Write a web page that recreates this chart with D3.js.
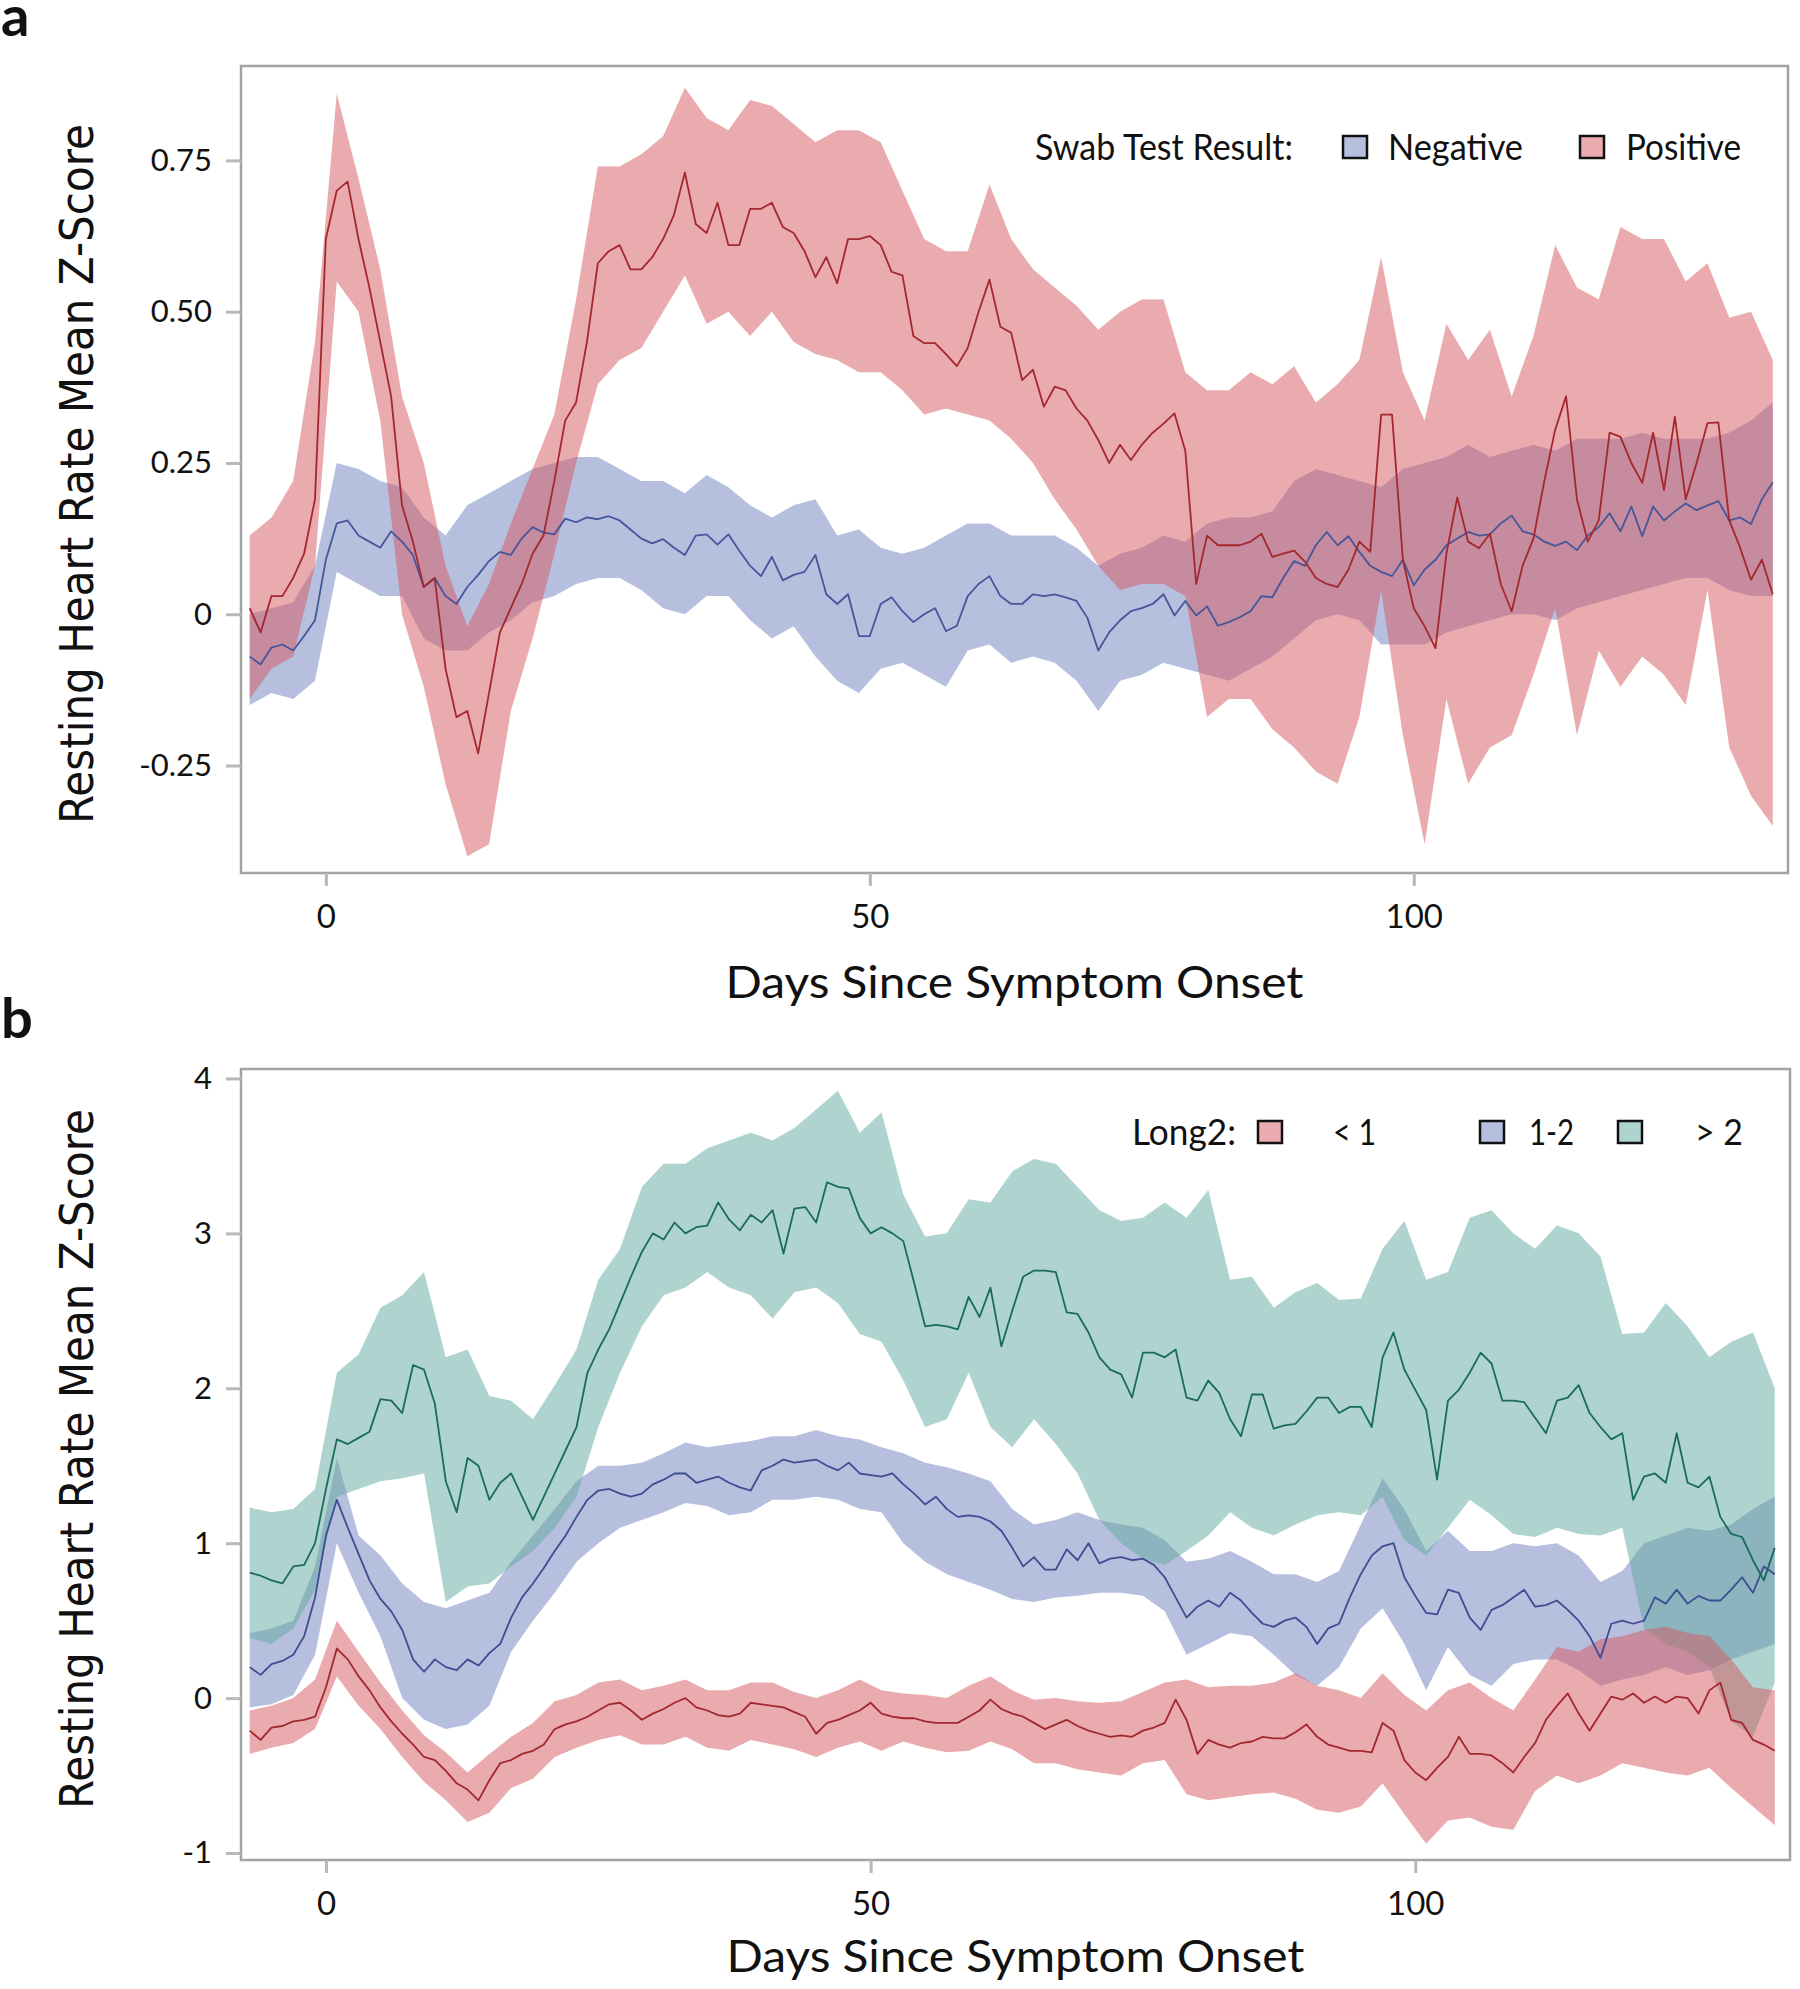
<!DOCTYPE html>
<html>
<head>
<meta charset="utf-8">
<script src="https://cdn.jsdelivr.net/npm/d3@7/dist/d3.min.js"></script>
<style>
  html, body { margin: 0; padding: 0; background: #fff; }
  svg { display: block; }
  .lbl { font-family: Lato, "Open Sans", "Liberation Sans", sans-serif; fill: #111; }
</style>
</head>
<body>
<svg id="chart" width="1800" height="1989"></svg>
<script>
// days since symptom onset: means are daily, bands every second day
var meanDays = d3.range(-7, 134);
var bandDays = d3.range(-7, 134, 2);

var ticksX = [0, 50, 100];
var ticksA = [-0.25, 0, 0.25, 0.5, 0.75];
var ticksB = [-1, 0, 1, 2, 3, 4];

// ---- panel a : swab test result ----
var negMean = [
  -0.07, -0.083, -0.055, -0.05, -0.06, -0.036, -0.01, 0.09, 0.15, 0.155,
  0.13, 0.12, 0.11, 0.137, 0.12, 0.098, 0.045, 0.06, 0.03, 0.017,
  0.045, 0.065, 0.088, 0.103, 0.098, 0.125, 0.144, 0.135, 0.132, 0.158,
  0.152, 0.16, 0.157, 0.162, 0.155, 0.14, 0.125, 0.117, 0.124, 0.11,
  0.098, 0.13, 0.132, 0.115, 0.132, 0.105, 0.08, 0.063, 0.095, 0.056,
  0.065, 0.07, 0.098, 0.033, 0.017, 0.033, -0.036, -0.036, 0.017, 0.028,
  0.005, -0.013, 0.0, 0.01, -0.028, -0.019, 0.03, 0.05, 0.063, 0.03,
  0.017, 0.017, 0.033, 0.03, 0.033, 0.028, 0.022, -0.006, -0.06, -0.03,
  -0.01, 0.005, 0.01, 0.017, 0.033, -0.002, 0.022, -0.002, 0.013, -0.019,
  -0.013, -0.005, 0.005, 0.03, 0.028, 0.06, 0.088, 0.08, 0.114, 0.136,
  0.114, 0.129, 0.103, 0.08, 0.07, 0.063, 0.09, 0.048, 0.074, 0.09,
  0.114, 0.125, 0.136, 0.13, 0.132, 0.15, 0.163, 0.137, 0.132, 0.12,
  0.113, 0.12, 0.106, 0.13, 0.144, 0.167, 0.137, 0.178, 0.129, 0.178,
  0.155, 0.17, 0.183, 0.172, 0.18, 0.187, 0.155, 0.16, 0.149, 0.19,
  0.218
];
var negUpper = [
  0.00, 0.01, 0.02, 0.08, 0.25, 0.24, 0.22, 0.21, 0.16, 0.13,
  0.18, 0.20, 0.22, 0.24, 0.25, 0.26, 0.26, 0.24, 0.22, 0.22,
  0.20, 0.23, 0.21, 0.18, 0.16, 0.18, 0.19, 0.13, 0.14, 0.11,
  0.10, 0.11, 0.13, 0.15, 0.15, 0.13, 0.13, 0.13, 0.11, 0.08,
  0.10, 0.11, 0.13, 0.12, 0.15, 0.16, 0.16, 0.17, 0.22, 0.24,
  0.23, 0.22, 0.21, 0.24, 0.25, 0.26, 0.28, 0.26, 0.27, 0.28,
  0.27, 0.29, 0.29, 0.29, 0.30, 0.29, 0.29, 0.29, 0.30, 0.32,
  0.35
];
var negLower = [
  -0.15, -0.13, -0.14, -0.11, 0.07, 0.05, 0.03, 0.03, -0.04, -0.06,
  -0.06, -0.03, -0.01, 0.02, 0.03, 0.05, 0.06, 0.06, 0.04, 0.01,
  0.00, 0.03, 0.03, -0.01, -0.04, -0.02, -0.07, -0.11, -0.13, -0.09,
  -0.08, -0.10, -0.12, -0.06, -0.05, -0.08, -0.07, -0.08, -0.11, -0.16,
  -0.11, -0.10, -0.08, -0.09, -0.10, -0.11, -0.09, -0.07, -0.04, -0.01,
  0.00, -0.01, -0.05, -0.05, -0.05, -0.03, -0.02, -0.01, 0.00, 0.00,
  -0.01, 0.01, 0.02, 0.03, 0.04, 0.05, 0.06, 0.06, 0.04, 0.03,
  0.03
];
var posMean = [
  0.01, -0.03, 0.03, 0.03, 0.06, 0.10, 0.19, 0.62, 0.70, 0.715,
  0.62, 0.54, 0.45, 0.36, 0.18, 0.12, 0.045, 0.06, -0.09, -0.17,
  -0.16, -0.23, -0.13, -0.03, 0.01, 0.05, 0.10, 0.13, 0.22, 0.32,
  0.35, 0.45, 0.58, 0.60, 0.61, 0.57, 0.57, 0.59, 0.62, 0.66,
  0.73, 0.645, 0.63, 0.68, 0.61, 0.61, 0.67, 0.67, 0.68, 0.64,
  0.63, 0.60, 0.557, 0.59, 0.547, 0.62, 0.62, 0.625, 0.61, 0.566,
  0.56, 0.46, 0.448, 0.448, 0.43, 0.41, 0.44, 0.50, 0.553, 0.475,
  0.465, 0.387, 0.404, 0.343, 0.376, 0.37, 0.34, 0.32, 0.288, 0.25,
  0.28, 0.255, 0.28, 0.30, 0.315, 0.332, 0.27, 0.05, 0.13, 0.114,
  0.114, 0.114, 0.12, 0.133, 0.095, 0.10, 0.105, 0.087, 0.06, 0.05,
  0.045, 0.074, 0.12, 0.103, 0.33, 0.33, 0.09, 0.01, -0.02, -0.056,
  0.10, 0.193, 0.12, 0.109, 0.133, 0.05, 0.005, 0.08, 0.125, 0.22,
  0.305, 0.36, 0.19, 0.12, 0.155, 0.30, 0.293, 0.25, 0.217, 0.30,
  0.205, 0.326, 0.19, 0.25, 0.316, 0.317, 0.155, 0.11, 0.057, 0.09,
  0.033
];
var posUpper = [
  0.13, 0.16, 0.22, 0.45, 0.86, 0.72, 0.57, 0.36, 0.25, 0.08,
  -0.02, 0.05, 0.15, 0.24, 0.33, 0.52, 0.74, 0.74, 0.76, 0.79,
  0.87, 0.82, 0.80, 0.85, 0.84, 0.81, 0.78, 0.80, 0.80, 0.78,
  0.70, 0.62, 0.60, 0.60, 0.71, 0.62, 0.57, 0.54, 0.51, 0.47,
  0.50, 0.52, 0.52, 0.40, 0.37, 0.37, 0.40, 0.38, 0.41, 0.35,
  0.38, 0.42, 0.59, 0.40, 0.32, 0.48, 0.42, 0.47, 0.36, 0.46,
  0.61, 0.54, 0.52, 0.64, 0.62, 0.62, 0.55, 0.58, 0.49, 0.50,
  0.42
];
var posLower = [
  -0.14, -0.09, -0.07, 0.08, 0.55, 0.50, 0.32, 0.00, -0.12, -0.28,
  -0.40, -0.38, -0.16, -0.04, 0.10, 0.25, 0.38, 0.42, 0.44, 0.50,
  0.56, 0.48, 0.50, 0.46, 0.50, 0.45, 0.43, 0.42, 0.40, 0.40,
  0.37, 0.33, 0.34, 0.33, 0.32, 0.29, 0.25, 0.19, 0.14, 0.08,
  0.04, 0.05, 0.05, 0.03, -0.17, -0.14, -0.14, -0.19, -0.22, -0.26,
  -0.28, -0.17, 0.04, -0.20, -0.38, -0.14, -0.28, -0.22, -0.20, -0.10,
  0.01, -0.20, -0.06, -0.12, -0.07, -0.10, -0.15, 0.04, -0.22, -0.30,
  -0.35
];

// ---- panel b : Long2 groups ----
var lowMean = [
  -0.21, -0.27, -0.19, -0.18, -0.15, -0.14, -0.12, 0.07, 0.32, 0.25,
  0.14, 0.05, -0.06, -0.15, -0.23, -0.3, -0.38, -0.4, -0.47, -0.55,
  -0.59, -0.66, -0.53, -0.42, -0.4, -0.36, -0.34, -0.3, -0.2, -0.17,
  -0.15, -0.12, -0.08, -0.04, -0.03, -0.08, -0.14, -0.1, -0.07, -0.03,
  0.0, -0.06, -0.08, -0.11, -0.12, -0.1, -0.03, -0.04, -0.05, -0.06,
  -0.09, -0.12, -0.23, -0.16, -0.14, -0.11, -0.08, -0.03, -0.1, -0.12,
  -0.13, -0.13, -0.15, -0.16, -0.16, -0.16, -0.12, -0.08, -0.01, -0.07,
  -0.1, -0.12, -0.16, -0.2, -0.17, -0.14, -0.18, -0.21, -0.23, -0.25,
  -0.24, -0.25, -0.21, -0.19, -0.16, -0.01, -0.14, -0.36, -0.27, -0.3,
  -0.32, -0.29, -0.28, -0.25, -0.26, -0.26, -0.22, -0.17, -0.25, -0.3,
  -0.32, -0.34, -0.34, -0.35, -0.16, -0.21, -0.4, -0.48, -0.53, -0.45,
  -0.38, -0.25, -0.36, -0.36, -0.37, -0.42, -0.48, -0.38, -0.29, -0.14,
  -0.05, 0.03, -0.1, -0.21, -0.1, 0.01, -0.01, 0.03, -0.03, 0.01,
  -0.03, 0.01, 0.0, -0.1, 0.05, 0.1, -0.14, -0.16, -0.27, -0.3,
  -0.34
];
var lowUpper = [
  -0.08, -0.05, 0.00, 0.12, 0.50, 0.30, 0.10, -0.08, -0.24, -0.35,
  -0.48, -0.36, -0.25, -0.16, -0.02, 0.02, 0.10, 0.12, 0.05, 0.08,
  0.12, 0.05, 0.05, 0.10, 0.10, 0.04, 0.00, 0.05, 0.12, 0.05,
  0.03, 0.02, 0.00, 0.08, 0.14, 0.05, -0.01, 0.00, -0.02, -0.03,
  -0.02, 0.04, 0.10, 0.12, 0.07, 0.08, 0.08, 0.10, 0.16, 0.08,
  0.05, 0.00, 0.16, 0.02, -0.08, 0.05, 0.10, 0.00, -0.08, 0.12,
  0.33, 0.30, 0.38, 0.40, 0.44, 0.46, 0.42, 0.40, 0.25, 0.07,
  0.05
];
var lowLower = [
  -0.36, -0.32, -0.29, -0.20, 0.14, -0.05, -0.20, -0.38, -0.54, -0.66,
  -0.80, -0.74, -0.58, -0.52, -0.38, -0.32, -0.27, -0.24, -0.30, -0.30,
  -0.25, -0.32, -0.34, -0.27, -0.30, -0.33, -0.38, -0.32, -0.28, -0.34,
  -0.28, -0.32, -0.35, -0.34, -0.28, -0.33, -0.42, -0.42, -0.46, -0.48,
  -0.50, -0.42, -0.40, -0.62, -0.66, -0.64, -0.62, -0.61, -0.65, -0.72,
  -0.74, -0.70, -0.55, -0.75, -0.94, -0.79, -0.77, -0.83, -0.85, -0.60,
  -0.50, -0.55, -0.50, -0.42, -0.45, -0.48, -0.50, -0.45, -0.58, -0.70,
  -0.82
];
var midMean = [
  0.2, 0.15, 0.22, 0.24, 0.28, 0.4, 0.65, 1.05, 1.28, 1.1,
  0.93, 0.76, 0.64, 0.56, 0.44, 0.25, 0.17, 0.25, 0.2, 0.18,
  0.25, 0.21, 0.29, 0.35, 0.52, 0.65, 0.74, 0.84, 0.95, 1.05,
  1.17, 1.28, 1.34, 1.35, 1.32, 1.3, 1.32, 1.38, 1.41, 1.45,
  1.45, 1.39, 1.41, 1.43, 1.39, 1.36, 1.34, 1.47, 1.5, 1.54,
  1.52, 1.53, 1.54, 1.5, 1.47, 1.52, 1.45, 1.44, 1.43, 1.45,
  1.38, 1.32, 1.25, 1.3, 1.22, 1.17, 1.18, 1.17, 1.14, 1.08,
  0.97, 0.85, 0.91, 0.83, 0.83, 0.96, 0.89, 1.0, 0.87, 0.9,
  0.91, 0.89, 0.9, 0.86, 0.78, 0.65, 0.52, 0.59, 0.63, 0.59,
  0.68, 0.63, 0.55, 0.48, 0.46, 0.5, 0.52, 0.46, 0.35, 0.45,
  0.48, 0.65, 0.8, 0.92, 0.98, 1.0, 0.78, 0.66, 0.55, 0.54,
  0.7, 0.68, 0.52, 0.44, 0.57, 0.6, 0.65, 0.7, 0.59, 0.6,
  0.63, 0.57, 0.5, 0.4, 0.26, 0.48, 0.5, 0.48, 0.5, 0.65,
  0.61, 0.7, 0.61, 0.66, 0.63, 0.63, 0.7, 0.78, 0.68, 0.85,
  0.8
];
var midUpper = [
  0.42, 0.45, 0.50, 0.85, 1.55, 1.05, 0.92, 0.74, 0.62, 0.58,
  0.63, 0.68, 0.88, 1.05, 1.22, 1.40, 1.50, 1.50, 1.52, 1.58,
  1.65, 1.62, 1.64, 1.66, 1.69, 1.69, 1.73, 1.69, 1.67, 1.62,
  1.58, 1.52, 1.49, 1.45, 1.40, 1.22, 1.12, 1.15, 1.20, 1.15,
  1.12, 1.10, 1.02, 0.88, 0.90, 0.95, 0.88, 0.80, 0.80, 0.75,
  0.82, 1.12, 1.42, 1.22, 0.95, 1.08, 0.95, 0.95, 1.00, 0.98,
  1.00, 0.92, 0.75, 0.82, 1.00, 1.05, 1.10, 1.08, 1.12, 1.22,
  1.30
];
var midLower = [
  -0.06, -0.04, 0.02, 0.28, 1.00, 0.68, 0.40, 0.00, -0.14, -0.20,
  -0.17, -0.05, 0.30, 0.50, 0.68, 0.88, 1.00, 1.10, 1.15, 1.20,
  1.26, 1.24, 1.18, 1.20, 1.28, 1.28, 1.30, 1.28, 1.22, 1.20,
  1.00, 0.88, 0.80, 0.75, 0.70, 0.64, 0.62, 0.65, 0.66, 0.68,
  0.68, 0.66, 0.56, 0.28, 0.35, 0.42, 0.40, 0.28, 0.15, 0.08,
  0.20, 0.45, 0.58, 0.35, 0.05, 0.33, 0.15, 0.08, 0.22, 0.25,
  0.25, 0.18, 0.08, 0.12, 0.15, 0.20, 0.15, 0.18, 0.25, 0.30,
  0.35
];
var highMean = [
  0.81, 0.79, 0.76, 0.74, 0.85, 0.86, 1.0, 1.35, 1.67, 1.64,
  1.68, 1.72, 1.93, 1.92, 1.84, 2.15, 2.12, 1.90, 1.40, 1.20,
  1.55, 1.50, 1.28, 1.39, 1.45, 1.30, 1.15, 1.30, 1.45, 1.60,
  1.75, 2.1, 2.25, 2.38, 2.55, 2.72, 2.88, 3.0, 2.96, 3.07,
  3.0, 3.04, 3.05, 3.2, 3.09, 3.02, 3.12, 3.07, 3.15, 2.87,
  3.16, 3.17, 3.07, 3.33, 3.3, 3.29, 3.1, 3.0, 3.04, 3.0,
  2.95, 2.68, 2.4, 2.41, 2.4, 2.38, 2.59, 2.46, 2.65, 2.27,
  2.5, 2.72, 2.76, 2.76, 2.75, 2.49, 2.48, 2.36, 2.2, 2.12,
  2.09, 1.94, 2.23, 2.23, 2.2, 2.25, 1.94, 1.92, 2.05, 1.97,
  1.8, 1.69, 1.96, 1.96, 1.74, 1.76, 1.77, 1.85, 1.94, 1.94,
  1.84, 1.88, 1.88, 1.75, 2.2, 2.36, 2.12, 1.99, 1.86, 1.41,
  1.92, 1.99, 2.1, 2.23, 2.16, 1.92, 1.92, 1.91, 1.81, 1.71,
  1.92, 1.94, 2.02, 1.84, 1.75, 1.67, 1.71, 1.28, 1.43, 1.45,
  1.39, 1.71, 1.39, 1.36, 1.43, 1.17, 1.06, 1.04, 0.89, 0.76,
  0.97
];
var highUpper = [
  1.23, 1.20, 1.22, 1.35, 2.10, 2.22, 2.52, 2.60, 2.75, 2.20,
  2.25, 1.95, 1.92, 1.80, 2.02, 2.25, 2.70, 2.90, 3.30, 3.45,
  3.45, 3.55, 3.60, 3.65, 3.60, 3.68, 3.80, 3.92, 3.65, 3.78,
  3.25, 2.98, 3.00, 3.22, 3.20, 3.40, 3.48, 3.45, 3.30, 3.15,
  3.08, 3.10, 3.20, 3.10, 3.28, 2.70, 2.72, 2.52, 2.62, 2.68,
  2.57, 2.58, 2.90, 3.08, 2.70, 2.75, 3.10, 3.15, 3.00, 2.90,
  3.05, 3.00, 2.85, 2.35, 2.36, 2.55, 2.40, 2.20, 2.30, 2.36,
  2.00
];
var highLower = [
  0.39, 0.35, 0.45, 0.70, 1.30, 1.35, 1.40, 1.42, 1.45, 0.62,
  0.72, 0.74, 0.85, 0.95, 1.10, 1.30, 1.75, 2.10, 2.40, 2.60,
  2.65, 2.75, 2.65, 2.60, 2.45, 2.62, 2.65, 2.55, 2.35, 2.30,
  2.05, 1.75, 1.80, 2.10, 1.75, 1.62, 1.80, 1.64, 1.45, 1.15,
  1.00, 0.90, 0.86, 0.95, 1.05, 1.20, 1.10, 1.05, 1.12, 1.18,
  1.20, 1.18, 1.30, 1.02, 0.92, 1.10, 1.28, 1.18, 1.06, 1.04,
  1.10, 1.06, 1.05, 1.10, 0.45, 0.35, 0.30, 0.20, -0.15, -0.25,
  0.10
];

var redFill = '#d6575f', blueFill = '#6f80bd', tealFill = '#5fa99f';

var svg = d3.select('#chart');
var xDomain = [-7.8, 134.4];

function drawPanel(cfg) {
  var x = d3.scaleLinear().domain(xDomain).range([cfg.left, cfg.right]);
  var y = d3.scaleLinear().domain(cfg.yDomain).range([cfg.bottom, cfg.top]);

  svg.append('clipPath').attr('id', 'clip-' + cfg.id)
    .append('rect')
      .attr('x', cfg.left).attr('y', cfg.top)
      .attr('width', cfg.right - cfg.left).attr('height', cfg.bottom - cfg.top);

  var plot = svg.append('g').attr('clip-path', 'url(#clip-' + cfg.id + ')');

  // confidence bands first, mean lines on top
  cfg.series.forEach(function(s) {
    var band = d3.area()
      .x(function(d, i) { return x(bandDays[i]); })
      .y0(function(d, i) { return y(s.lower[i]); })
      .y1(function(d) { return y(d); });
    plot.append('path').datum(s.upper)
      .attr('d', band)
      .attr('fill', s.fill)
      .attr('fill-opacity', 0.5);
  });
  cfg.series.forEach(function(s) {
    var line = d3.line()
      .x(function(d, i) { return x(meanDays[i]); })
      .y(function(d) { return y(d); });
    plot.append('path').datum(s.mean)
      .attr('d', line)
      .attr('fill', 'none')
      .attr('stroke', s.stroke)
      .attr('stroke-width', 1.8)
      .attr('stroke-linejoin', 'round');
  });

  // frame
  svg.append('rect')
    .attr('x', cfg.left).attr('y', cfg.top)
    .attr('width', cfg.right - cfg.left).attr('height', cfg.bottom - cfg.top)
    .attr('fill', 'none').attr('stroke', '#a3a3a3').attr('stroke-width', 2.5);

  var yAxis = svg.append('g')
    .attr('transform', 'translate(' + cfg.left + ',0)')
    .call(d3.axisLeft(y).tickValues(cfg.ticks).tickFormat(cfg.format).tickSize(15).tickPadding(14));
  var xAxis = svg.append('g')
    .attr('transform', 'translate(0,' + cfg.bottom + ')')
    .call(d3.axisBottom(x).tickValues(ticksX).tickSize(13).tickPadding(19));

  [yAxis, xAxis].forEach(function(ax) {
    ax.select('.domain').remove();
    ax.selectAll('.tick line').attr('stroke', '#b8b8b8').attr('stroke-width', 3);
    ax.selectAll('.tick text').attr('class', 'lbl').attr('fill', '#111');
  });
  yAxis.selectAll('.tick text').attr('font-size', 31);
  xAxis.selectAll('.tick text').attr('font-size', 33);

  // axis titles
  svg.append('text').attr('class', 'lbl')
    .attr('x', (cfg.left + cfg.right) / 2).attr('y', cfg.xTitleY)
    .attr('text-anchor', 'middle')
    .attr('font-size', 44)
    .attr('textLength', 578).attr('lengthAdjust', 'spacingAndGlyphs')
    .text('Days Since Symptom Onset');

  svg.append('text')
    .attr('transform', 'translate(93,' + cfg.yTitleY + ') rotate(-90)')
    .attr('text-anchor', 'middle')
    .attr('font-family', '"DejaVu Sans", Verdana, sans-serif')
    .attr('font-size', 47)
    .attr('fill', '#111')
    .attr('textLength', 700).attr('lengthAdjust', 'spacingAndGlyphs')
    .text('Resting Heart Rate Mean Z-Score');

  svg.append('text').attr('class', 'lbl')
    .attr('x', 1).attr('y', cfg.letterY)
    .attr('font-size', 56).attr('font-weight', 700)
    .text(cfg.letter);

  // legend
  var leg = svg.append('g');
  cfg.legend.forEach(function(item) {
    if (item.box) {
      leg.append('rect')
        .attr('x', item.x).attr('y', cfg.legendY - 24)
        .attr('width', 24).attr('height', 22)
        .attr('fill', item.box).attr('fill-opacity', 0.5)
        .attr('stroke', '#111').attr('stroke-width', 2.5);
    } else {
      leg.append('text').attr('class', 'lbl')
        .attr('x', item.x).attr('y', cfg.legendY)
        .attr('font-size', 36)
        .attr('textLength', item.w).attr('lengthAdjust', 'spacingAndGlyphs')
        .text(item.text);
    }
  });
}

drawPanel({
  id: 'a', letter: 'a', letterY: 36,
  left: 241, right: 1788, top: 66, bottom: 873,
  yDomain: [-0.4276, 0.906],
  ticks: ticksA,
  format: function(d) { return d === 0 ? '0' : d.toFixed(2); },
  xTitleY: 998, yTitleY: 474,
  legendY: 160,
  legend: [
    { text: 'Swab Test Result:', x: 1035, w: 258 },
    { box: blueFill, x: 1343 },
    { text: 'Negative', x: 1388, w: 135 },
    { box: redFill, x: 1580 },
    { text: 'Positive', x: 1626, w: 115 }
  ],
  series: [
    { mean: negMean, upper: negUpper, lower: negLower, fill: blueFill, stroke: '#45569a' },
    { mean: posMean, upper: posUpper, lower: posLower, fill: redFill, stroke: '#a3282e' }
  ]
});

drawPanel({
  id: 'b', letter: 'b', letterY: 1038,
  left: 241, right: 1790, top: 1069, bottom: 1860,
  yDomain: [-1.045, 4.061],
  ticks: ticksB,
  format: function(d) { return String(d); },
  xTitleY: 1972, yTitleY: 1459,
  legendY: 1145,
  legend: [
    { text: 'Long2:', x: 1132, w: 104 },
    { box: redFill, x: 1258 },
    { text: '< 1', x: 1333, w: 43 },
    { box: blueFill, x: 1480 },
    { text: '1-2', x: 1529, w: 45 },
    { box: tealFill, x: 1618 },
    { text: '> 2', x: 1695, w: 48 }
  ],
  series: [
    { mean: midMean, upper: midUpper, lower: midLower, fill: blueFill, stroke: '#3e4c92' },
    { mean: highMean, upper: highUpper, lower: highLower, fill: tealFill, stroke: '#1b6a5e' },
    { mean: lowMean, upper: lowUpper, lower: lowLower, fill: redFill, stroke: '#a3282e' }
  ]
});
</script>
</body>
</html>
